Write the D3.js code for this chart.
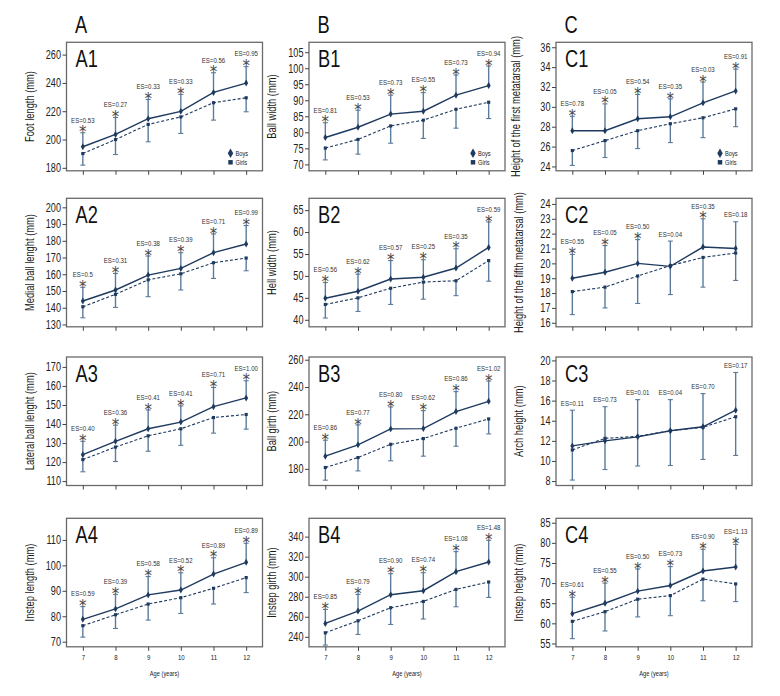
<!DOCTYPE html>
<html>
<head>
<meta charset="utf-8">
<script src="https://cdn.jsdelivr.net/npm/d3@7"></script>
<style>
  html, body { margin: 0; padding: 0; background: #fff; }
  svg { display: block; }
  text { font-family: "Liberation Sans", Arial, sans-serif; }
</style>
</head>
<body>
<svg id="chart" width="780" height="696"></svg>
<script>
// ---------- data ----------
const ages = [7, 8, 9, 10, 11, 12];
const columnLetters = ["A", "B", "C"];
const xAxisTitle = "Age (years)";
const legendLabels = ["Boys", "Girls"];

// A1 Foot length
const footLengthBoys  = [194.9, 203.6, 214.7, 219.9, 233.3, 239.9];
const footLengthGirls = [190.1, 200.0, 210.7, 216.0, 226.0, 229.5];
const footLengthBoysUpper  = [204.8, 215.6, 228.3, 231.9, 247.2, 251.5];
const footLengthGirlsLower = [181.9, 189.4, 198.4, 204.3, 213.7, 219.6];
const footLengthES  = ["0.53", "0.27", "0.33", "0.33", "0.56", "0.95"];
const footLengthSig = [1, 1, 1, 1, 1, 1];
const footLengthTicks = [180, 200, 220, 240, 260];

// A2 Medial ball length
const medialBallBoys  = [144.0, 150.6, 159.5, 163.5, 172.9, 178.1];
const medialBallGirls = [140.6, 148.0, 156.7, 160.3, 166.9, 169.7];
const medialBallBoysUpper  = [152.2, 160.5, 170.9, 172.9, 184.1, 189.1];
const medialBallGirlsLower = [134.0, 140.2, 146.6, 150.6, 157.5, 162.1];
const medialBallES  = ["0.5", "0.31", "0.38", "0.39", "0.71", "0.99"];
const medialBallSig = [1, 1, 1, 1, 1, 1];
const medialBallTicks = [130, 140, 150, 160, 170, 180, 190, 200];

// A3 Lateral ball length
const lateralBallBoys  = [123.9, 130.9, 137.5, 141.0, 149.1, 153.7];
const lateralBallGirls = [121.3, 127.9, 133.8, 137.5, 143.4, 145.0];
const lateralBallBoysUpper  = [130.9, 139.4, 147.4, 149.5, 159.2, 162.7];
const lateralBallGirlsLower = [114.9, 120.3, 125.7, 128.8, 135.2, 137.3];
const lateralBallES  = ["0.40", "0.36", "0.41", "0.41", "0.71", "1.00"];
const lateralBallSig = [1, 1, 1, 1, 1, 1];
const lateralBallTicks = [110, 120, 130, 140, 150, 160, 170];

// A4 Instep length
const instepLengthBoys  = [78.8, 82.9, 88.4, 90.3, 96.6, 101.2];
const instepLengthGirls = [76.3, 80.6, 84.8, 87.3, 91.0, 95.2];
const instepLengthBoysUpper  = [83.8, 88.6, 95.6, 97.1, 103.0, 108.7];
const instepLengthGirlsLower = [71.8, 75.2, 78.5, 81.1, 84.8, 89.3];
const instepLengthES  = ["0.59", "0.39", "0.58", "0.52", "0.89", "0.89"];
const instepLengthSig = [1, 1, 1, 1, 1, 1];
const instepLengthTicks = [70, 80, 90, 100, 110];

// B1 Ball width
const ballWidthBoys  = [78.4, 81.6, 85.7, 86.6, 91.6, 94.6];
const ballWidthGirls = [75.1, 77.8, 82.0, 83.8, 87.2, 89.4];
const ballWidthBoysUpper  = [83.0, 86.9, 91.6, 92.4, 97.9, 100.7];
const ballWidthGirlsLower = [71.4, 73.2, 76.6, 78.1, 81.3, 84.3];
const ballWidthES  = ["0.81", "0.53", "0.73", "0.55", "0.73", "0.94"];
const ballWidthSig = [1, 1, 1, 1, 1, 1];
const ballWidthTicks = [70, 75, 80, 85, 90, 95, 100, 105];

// B2 Heel width
const heelWidthBoys  = [44.9, 46.5, 49.3, 49.7, 51.8, 56.5];
const heelWidthGirls = [43.5, 45.0, 47.2, 48.6, 48.9, 53.5];
const heelWidthBoysUpper  = [48.5, 50.4, 53.5, 53.7, 56.2, 62.3];
const heelWidthGirlsLower = [40.4, 41.9, 43.5, 44.7, 45.5, 48.8];
const heelWidthES  = ["0.56", "0.62", "0.57", "0.25", "0.35", "0.59"];
const heelWidthSig = [1, 1, 1, 1, 1, 1];
const heelWidthTicks = [40, 45, 50, 55, 60, 65];

// B3 Ball girth
const ballGirthBoys  = [189.3, 197.6, 209.3, 209.5, 222.0, 229.5];
const ballGirthGirls = [181.0, 188.3, 198.0, 202.2, 209.8, 216.6];
const ballGirthBoysUpper  = [201.0, 212.2, 225.4, 222.7, 236.6, 244.4];
const ballGirthGirlsLower = [171.7, 178.5, 185.9, 189.3, 196.6, 205.6];
const ballGirthES  = ["0.86", "0.77", "0.80", "0.62", "0.86", "1.02"];
const ballGirthSig = [1, 1, 1, 1, 1, 1];
const ballGirthTicks = [180, 200, 220, 240, 260];

// B4 Instep girth
const instepGirthBoys  = [253.3, 265.7, 282.0, 286.0, 305.0, 314.7];
const instepGirthGirls = [244.0, 256.0, 269.0, 275.3, 287.3, 294.7];
const instepGirthBoysUpper  = [267.3, 282.3, 303.0, 304.0, 325.0, 336.3];
const instepGirthGirlsLower = [231.7, 242.3, 252.3, 257.7, 270.0, 279.3];
const instepGirthES  = ["0.85", "0.79", "0.90", "0.74", "1.08", "1.48"];
const instepGirthSig = [1, 1, 1, 1, 1, 1];
const instepGirthTicks = [240, 260, 280, 300, 320, 340];

// C1 Height of the first metatarsal
const firstMetBoys  = [27.6, 27.6, 28.8, 29.0, 30.4, 31.6];
const firstMetGirls = [25.6, 26.6, 27.6, 28.3, 28.9, 29.8];
const firstMetBoysUpper  = [29.05, 30.3, 31.25, 30.8, 32.5, 33.8];
const firstMetGirlsLower = [24.1, 24.9, 25.8, 26.4, 26.9, 28.0];
const firstMetES  = ["0.78", "0.05", "0.54", "0.35", "0.03", "0.91"];
const firstMetSig = [1, 1, 1, 1, 1, 1];
const firstMetTicks = [24, 26, 28, 30, 32, 34, 36];

// C2 Height of the fifth metatarsal
const fifthMetBoys  = [19.0, 19.4, 20.0, 19.8, 21.1, 21.0];
const fifthMetGirls = [18.1, 18.4, 19.15, 19.85, 20.4, 20.7];
const fifthMetBoysUpper  = [20.6, 21.2, 21.6, 21.5, 23.0, 22.8];
const fifthMetGirlsLower = [16.55, 17.0, 17.3, 17.9, 18.4, 18.85];
const fifthMetES  = ["0.55", "0.05", "0.50", "0.04", "0.35", "0.18"];
const fifthMetSig = [1, 1, 1, 0, 1, 0];
const fifthMetTicks = [16, 17, 18, 19, 20, 21, 22, 23, 24];

// C3 Arch height
const archBoys  = [11.5, 12.0, 12.4, 13.0, 13.4, 15.05];
const archGirls = [11.1, 12.25, 12.45, 13.0, 13.35, 14.4];
const archBoysUpper  = [15.05, 15.4, 16.1, 16.1, 16.7, 18.8];
const archGirlsLower = [8.1, 9.15, 9.5, 9.55, 10.15, 10.55];
const archES  = ["0.11", "0.73", "0.01", "0.04", "0.70", "0.17"];
const archSig = [0, 0, 0, 0, 0, 0];
const archTicks = [8, 10, 12, 14, 16, 18, 20];

// C4 Instep height
const instepHeightBoys  = [62.4, 65.0, 68.0, 69.4, 73.0, 74.0];
const instepHeightGirls = [60.5, 62.9, 66.0, 66.9, 71.0, 69.8];
const instepHeightBoysUpper  = [66.5, 70.0, 73.5, 74.1, 78.4, 79.6];
const instepHeightGirlsLower = [56.2, 58.1, 61.6, 61.9, 65.6, 65.4];
const instepHeightES  = ["0.61", "0.55", "0.50", "0.73", "0.90", "1.13"];
const instepHeightSig = [1, 1, 1, 1, 1, 1];
const instepHeightTicks = [55, 60, 65, 70, 75, 80, 85];

// ---------- panel table (built from arrays above) ----------
const panels = [
  {id:"A1", col:0, row:0, title:"Foot length (mm)", boys:footLengthBoys, girls:footLengthGirls, hi:footLengthBoysUpper, lo:footLengthGirlsLower, es:footLengthES, sig:footLengthSig, ticks:footLengthTicks, domain:[177.9, 268.7]},
  {id:"A2", col:0, row:1, title:"Medial ball lenght (mm)", boys:medialBallBoys, girls:medialBallGirls, hi:medialBallBoysUpper, lo:medialBallGirlsLower, es:medialBallES, sig:medialBallSig, ticks:medialBallTicks, domain:[128.6, 205.4]},
  {id:"A3", col:0, row:2, title:"Lateral ball lenght (mm)", boys:lateralBallBoys, girls:lateralBallGirls, hi:lateralBallBoysUpper, lo:lateralBallGirlsLower, es:lateralBallES, sig:lateralBallSig, ticks:lateralBallTicks, domain:[107.7, 175.2]},
  {id:"A4", col:0, row:3, title:"Instep length (mm)", boys:instepLengthBoys, girls:instepLengthGirls, hi:instepLengthBoysUpper, lo:instepLengthGirlsLower, es:instepLengthES, sig:instepLengthSig, ticks:instepLengthTicks, domain:[68.0, 118.5]},
  {id:"B1", col:1, row:0, title:"Ball width (mm)", boys:ballWidthBoys, girls:ballWidthGirls, hi:ballWidthBoysUpper, lo:ballWidthGirlsLower, es:ballWidthES, sig:ballWidthSig, ticks:ballWidthTicks, domain:[68.0, 108.1]},
  {id:"B2", col:1, row:1, title:"Hell width (mm)", boys:heelWidthBoys, girls:heelWidthGirls, hi:heelWidthBoysUpper, lo:heelWidthGirlsLower, es:heelWidthES, sig:heelWidthSig, ticks:heelWidthTicks, domain:[38.4, 67.7]},
  {id:"B3", col:1, row:2, title:"Ball girth (mm)", boys:ballGirthBoys, girls:ballGirthGirls, hi:ballGirthBoysUpper, lo:ballGirthGirlsLower, es:ballGirthES, sig:ballGirthSig, ticks:ballGirthTicks, domain:[167.8, 262.0]},
  {id:"B4", col:1, row:3, title:"Instep girth (mm)", boys:instepGirthBoys, girls:instepGirthGirls, hi:instepGirthBoysUpper, lo:instepGirthGirlsLower, es:instepGirthES, sig:instepGirthSig, ticks:instepGirthTicks, domain:[230.0, 358.3]},
  {id:"C1", col:2, row:0, title:"Height of the first metatarsal (mm)", boys:firstMetBoys, girls:firstMetGirls, hi:firstMetBoysUpper, lo:firstMetGirlsLower, es:firstMetES, sig:firstMetSig, ticks:firstMetTicks, domain:[23.56, 36.5]},
  {id:"C2", col:2, row:1, title:"Height of the fifth metatarsal (mm)", boys:fifthMetBoys, girls:fifthMetGirls, hi:fifthMetBoysUpper, lo:fifthMetGirlsLower, es:fifthMetES, sig:fifthMetSig, ticks:fifthMetTicks, domain:[15.73, 24.38]},
  {id:"C3", col:2, row:2, title:"Arch height (mm)", boys:archBoys, girls:archGirls, hi:archBoysUpper, lo:archGirlsLower, es:archES, sig:archSig, ticks:archTicks, domain:[7.56, 20.34]},
  {id:"C4", col:2, row:3, title:"Instep height (mm)", boys:instepHeightBoys, girls:instepHeightGirls, hi:instepHeightBoysUpper, lo:instepHeightGirlsLower, es:instepHeightES, sig:instepHeightSig, ticks:instepHeightTicks, domain:[54.17, 86.1]}
];

// ---------- layout ----------
const colX = [66.5, 309, 556];
const rowY = [42.3, 198.3, 357, 518.3];
const panelW = 196, panelH = 128.5;
const lineColor = "#1e3a5f";
const errColor = "#5a7b9c";
const frameColor = "#6a6a6a";
const textColor = "#222";
const SX = 0.76; // horizontal condensing to mimic a condensed typeface

const svg = d3.select("#chart");
svg.append("rect").attr("width", 780).attr("height", 696).attr("fill", "#fff");

// condensed text helper
function ctext(parent, x, y, str, size, anchor, fill, rotate) {
  return parent.append("text")
    .attr("transform", `translate(${x},${y})` + (rotate ? ` rotate(${rotate})` : "") + ` scale(${SX},1)`)
    .attr("text-anchor", anchor || "start")
    .attr("font-size", size)
    .attr("fill", fill || textColor)
    .text(str);
}

// column letters
columnLetters.forEach((L, i) => {
  ctext(svg, colX[i] + 8.5, 33, L, 24, "start", "#111");
});

panels.forEach(p => {
  const x0 = colX[p.col], y0 = rowY[p.row];
  const x = d3.scaleLinear().domain([6.5, 12.5]).range([x0, x0 + panelW]);
  const y = d3.scaleLinear().domain(p.domain).range([y0 + panelH, y0]);
  const g = svg.append("g");

  // frame
  g.append("rect").attr("x", x0).attr("y", y0).attr("width", panelW).attr("height", panelH)
    .attr("fill", "none").attr("stroke", frameColor).attr("stroke-width", 1.3);

  // y axis
  const ya = g.append("g").attr("transform", `translate(${x0},0)`)
    .call(d3.axisLeft(y).tickValues(p.ticks).tickSize(4).tickPadding(2).tickFormat(d3.format("d")));
  ya.select(".domain").remove();
  ya.selectAll(".tick line").attr("stroke", "#444");
  ya.selectAll(".tick text")
    .attr("font-size", 12).attr("fill", textColor)
    .style("font-family", '"Liberation Sans", Arial, sans-serif')
    .attr("x", -5.5 / SX).attr("transform", `scale(${SX},1)`);

  // x axis
  const last = p.row === 3;
  const xa = g.append("g").attr("transform", `translate(0,${y0 + panelH})`)
    .call(d3.axisBottom(x).tickValues(ages).tickSize(4).tickPadding(4).tickFormat(last ? d3.format("d") : () => ""));
  xa.select(".domain").remove();
  xa.selectAll(".tick line").attr("stroke", "#444");
  xa.selectAll(".tick text")
    .attr("font-size", 8).attr("fill", textColor)
    .style("font-family", '"Liberation Sans", Arial, sans-serif')
    .attr("transform", `scale(${SX},1)`);
  if (last) {
    ctext(g, x0 + panelW / 2, y0 + panelH + 29, xAxisTitle, 7.5, "middle");
  }

  // y title
  const off = p.id === "C1" ? 36 : 33;
  ctext(g, x0 - off, y0 + panelH / 2, p.title, 12.3, "middle", "#1a1a1a", -90);

  // panel label
  ctext(g, x0 + 9, y0 + 24.5, p.id, 24, "start", "#111");

  const idx = d3.range(ages.length);

  // error bars: boys upward, girls downward
  const cap = 2.5;
  idx.forEach(i => {
    const xi = x(ages[i]);
    g.append("line").attr("x1", xi).attr("x2", xi).attr("y1", y(p.boys[i])).attr("y2", y(p.hi[i]))
      .attr("stroke", errColor).attr("stroke-width", 1.4);
    g.append("line").attr("x1", xi - cap).attr("x2", xi + cap).attr("y1", y(p.hi[i])).attr("y2", y(p.hi[i]))
      .attr("stroke", errColor).attr("stroke-width", 1.1);
    g.append("line").attr("x1", xi).attr("x2", xi).attr("y1", y(p.girls[i])).attr("y2", y(p.lo[i]))
      .attr("stroke", errColor).attr("stroke-width", 1.4);
    g.append("line").attr("x1", xi - cap).attr("x2", xi + cap).attr("y1", y(p.lo[i])).attr("y2", y(p.lo[i]))
      .attr("stroke", errColor).attr("stroke-width", 1.1);
  });

  // lines
  const line = d3.line().x((d, i) => x(ages[i])).y(d => y(d));
  g.append("path").datum(p.girls).attr("d", line).attr("fill", "none")
    .attr("stroke", lineColor).attr("stroke-width", 1.1).attr("stroke-dasharray", "3,2");
  g.append("path").datum(p.boys).attr("d", line).attr("fill", "none")
    .attr("stroke", lineColor).attr("stroke-width", 1.4);

  // markers
  g.selectAll(".gm").data(p.girls).join("path")
    .attr("transform", (d, i) => `translate(${x(ages[i])},${y(d)})`)
    .attr("d", d3.symbol(d3.symbolSquare, 10)).attr("fill", lineColor);
  g.selectAll(".bm").data(p.boys).join("path")
    .attr("transform", (d, i) => `translate(${x(ages[i])},${y(d)})`)
    .attr("d", d3.symbol(d3.symbolDiamond, 14)).attr("fill", lineColor);

  // significance asterisks and ES labels
  idx.forEach(i => {
    const xi = x(ages[i]);
    const top = y(p.hi[i]);
    if (p.sig[i]) {
      g.append("text").attr("x", xi).attr("y", top + 4.6).attr("text-anchor", "middle")
        .attr("font-size", 15).attr("fill", "#454545")
        .style("font-family", '"DejaVu Sans", sans-serif').text("*");
      ctext(g, xi, top - 10.2, "ES=" + p.es[i], 8, "middle", "#333");
    } else {
      ctext(g, xi, top - 4.5, "ES=" + p.es[i], 8, "middle", "#333");
    }
  });

  // legend (first row only)
  if (p.row === 0) {
    const lx = x0 + panelW - 32, ly = y0 + panelH;
    g.append("path").attr("transform", `translate(${lx},${ly - 17.5})`)
      .attr("d", d3.symbol(d3.symbolDiamond, 26)).attr("fill", lineColor);
    ctext(g, lx + 5, ly - 15, legendLabels[0], 7.5, "start");
    g.append("path").attr("transform", `translate(${lx},${ly - 8.5})`)
      .attr("d", d3.symbol(d3.symbolSquare, 20)).attr("fill", lineColor);
    ctext(g, lx + 5, ly - 6, legendLabels[1], 7.5, "start");
  }
});
</script>
</body>
</html>
